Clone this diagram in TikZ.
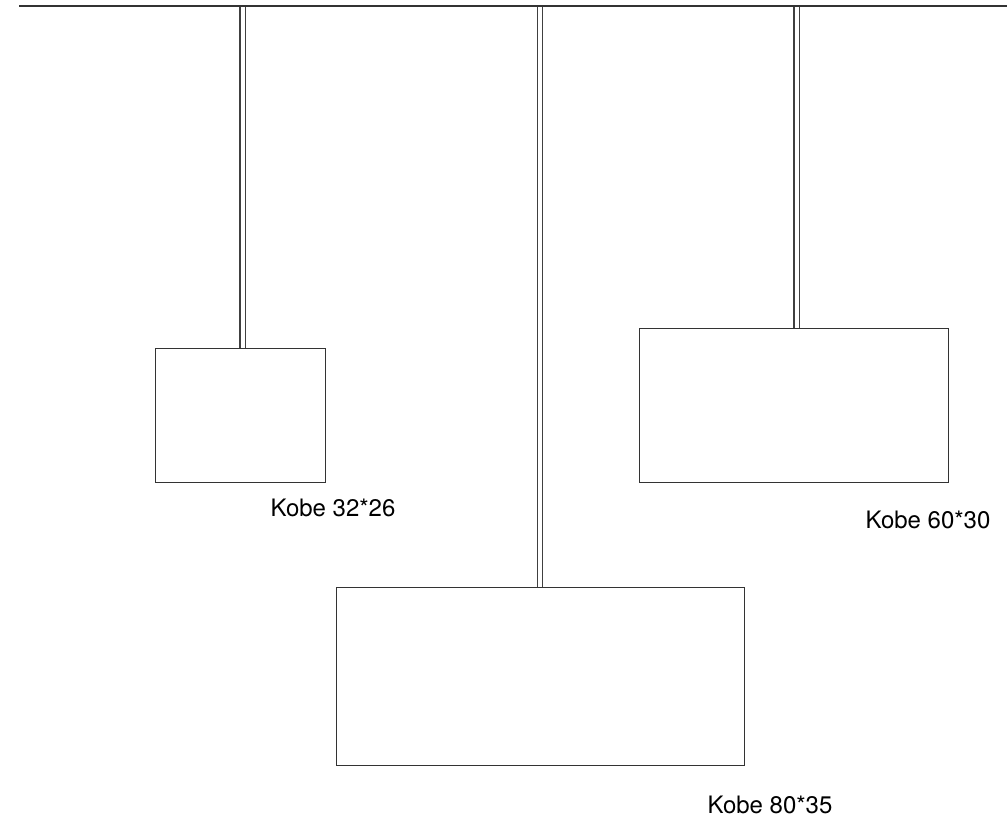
\documentclass[tikz,border=0pt]{standalone}
\usepackage{fontspec}
\setmainfont{TeX Gyre Heros}
\usetikzlibrary{positioning}

\begin{document}
\begin{tikzpicture}[x=0.75pt,y=-0.75pt,
    bar/.style={draw=black!80,line width=1.5pt},
    rod/.style={draw=black!75,line width=0.8pt,double=white,double distance=3pt},
    lampbox/.style={draw=black!80,line width=1pt,inner sep=0pt,anchor=north west},
    tag/.style={anchor=base west,font=\fontsize{18}{22}\selectfont}]
    \useasboundingbox (0,0) rectangle (1007,818);

    % Ceiling
    \coordinate (barL) at (19,6);
    \coordinate (barR) at (1007,6);

    % Lamps
    \node[lampbox,minimum width=127.5pt,minimum height=100.5pt] (small) at (155,348) {};
    \node[lampbox,minimum width=306pt,minimum height=133.5pt] (large) at (336,587) {};
    \node[lampbox,minimum width=231.75pt,minimum height=115.5pt] (medium) at (639,328) {};

    % Rods
    \coordinate (bar1) at (242.5,7);
    \coordinate (bar2) at (540,7);
    \coordinate (bar3) at (796.5,7);
    \draw[rod] (bar1) -- (small.north -| bar1);
    \draw[rod] (bar2) -- (large.north -| bar2);
    \draw[rod] (bar3) -- (medium.north -| bar3);
    \draw[bar] (barL) -- (barR);

    % Labels
    \node[tag] (smalltag) at (266,516) {Kobe 32*26};
    \node[tag] (largetag) at (703,813) {Kobe 80*35};
    \node[tag] (mediumtag) at (861,528) {Kobe 60*30};
\end{tikzpicture}
\end{document}
